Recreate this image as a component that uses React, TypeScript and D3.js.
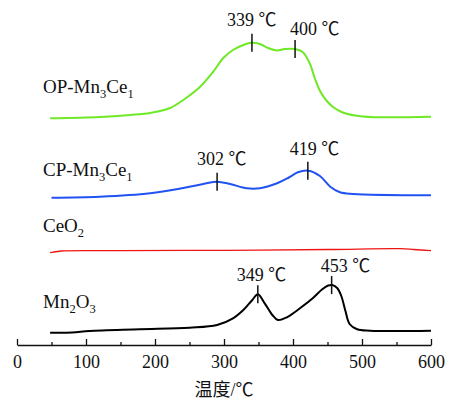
import React from 'react'
import * as d3 from 'd3'

// H2-TPR curves, temperature (℃) vs. signal (a.u.), stacked with offsets
const seriesNames = ['OP-Mn_3Ce_1', 'CP-Mn_3Ce_1', 'CeO_2', 'Mn_2O_3']
const seriesOffsets = [226, 147, 92, 12]
const seriesColors = ['#6fe826', '#2152f2', '#f01414', '#000000']

const opTemp = [48, 120, 164, 193, 222, 243, 265, 284, 299, 313, 328, 340, 352, 364, 377, 388, 403, 414, 424, 432, 440, 449, 458, 472, 501, 600]
const opSignal = [0.7, 2, 4, 6, 11, 20, 32, 47, 61, 69, 74, 76.3, 75, 71, 68.5, 70, 70, 67, 56, 40, 27, 18, 12, 6.5, 2.5, 2.3]

const cpTemp = [50, 120, 193, 241, 270, 290, 309, 333, 352, 377, 394, 407, 422, 439, 454, 468, 487, 600]
const cpSignal = [0.3, 1.3, 4.7, 10, 14, 16.3, 14, 9.7, 9.7, 14.7, 20.5, 25.7, 27.3, 22, 11.3, 5.7, 4, 2.7]

const ceTemp = [48, 64, 150, 300, 450, 556, 575, 600]
const ceSignal = [0.3, 2, 2.3, 2.7, 3.5, 4.3, 3.5, 2.3]

const mnTemp = [48, 80, 105, 178, 250, 290, 313, 328, 341, 349, 359, 370, 378, 391, 410, 429, 442, 451, 457, 464, 470, 476, 482, 493, 512, 600]
const mnSignal = [0.3, 0.5, 2, 3.7, 5.3, 8, 14.7, 23, 33, 38.7, 29.7, 18, 13, 15.7, 24.7, 35, 43.5, 47.5, 48, 45, 37, 22, 9, 3.7, 2.3, 2.3]

// peak markers
const peakSeries = [0, 0, 1, 1, 3, 3]
const peakAt = [340.5, 403, 290, 421.5, 349, 456]
const peakLabels = ['339 ℃', '400 ℃', '302 ℃', '419 ℃', '349 ℃', '453 ℃']

const xTicks = [0, 100, 200, 300, 400, 500, 600]
const xMinorTicks = [50, 150, 250, 350, 450, 550]

const W = 449
const H = 405
const FONT = "'Liberation Serif', 'Times New Roman', 'Noto Sans CJK SC', serif"

const App = () => {
  const ref = React.useRef<SVGSVGElement | null>(null)

  React.useEffect(() => {
    const svg = d3.select(ref.current)
    svg.selectAll('*').remove()

    const temps = [opTemp, cpTemp, ceTemp, mnTemp]
    const signals = [opSignal, cpSignal, ceSignal, mnSignal]

    const x = d3.scaleLinear().domain([0, 600]).range([17, 431])
    const y = d3.scaleLinear().domain([0, 345]).range([345, 0])

    const line = d3
      .line<[number, number]>()
      .x((d) => x(d[0]))
      .y((d) => y(d[1]))
      .curve(d3.curveCatmullRom.alpha(0.5))

    const valueAt = (i: number, t: number) => {
      const T = temps[i]
      const S = signals[i]
      const k = Math.max(1, Math.min(T.length - 1, d3.bisectLeft(T, t)))
      const f = (t - T[k - 1]) / (T[k] - T[k - 1])
      return S[k - 1] + f * (S[k] - S[k - 1]) + seriesOffsets[i]
    }

    // curves
    const widths = [2, 2, 1.3, 2]
    seriesNames.forEach((_, i) => {
      const pts: [number, number][] = temps[i].map((t, j) => [t, signals[i][j] + seriesOffsets[i]])
      svg
        .append('path')
        .attr('d', line(pts) || '')
        .attr('fill', 'none')
        .attr('stroke', seriesColors[i])
        .attr('stroke-width', widths[i])
        .attr('stroke-linejoin', 'round')
    })

    // series names with subscripts
    const nameGap = [21, 17, 16, 20]
    seriesNames.forEach((name, i) => {
      const t = svg
        .append('text')
        .attr('x', 43)
        .attr('y', y(seriesOffsets[i]) - nameGap[i])
        .attr('font-family', FONT)
        .attr('font-size', 19)
        .attr('fill', '#111')
      name.split(/(_\d)/).filter((s) => s).forEach((part) => {
        if (part.startsWith('_')) {
          t.append('tspan').attr('font-size', 12.5).attr('dy', 5).text(part.slice(1))
        } else {
          t.append('tspan').attr('dy', t.selectAll('tspan').size() ? -5 : 0).text(part)
        }
      })
    })

    // peak ticks and labels
    const labelDx = [-25, -5, -20, -18, -21, -11]
    const labelDy = [-8, -5, -8, -7, -4, -4]
    peakAt.forEach((t, i) => {
      const v = valueAt(peakSeries[i], t)
      const px = x(t)
      const top = y(v) - 9
      svg
        .append('line')
        .attr('x1', px)
        .attr('x2', px)
        .attr('y1', top)
        .attr('y2', y(v) + 9)
        .attr('stroke', '#111')
        .attr('stroke-width', 1.5)
      svg
        .append('text')
        .attr('x', px + labelDx[i])
        .attr('y', top + labelDy[i])
        .attr('font-family', FONT)
        .attr('font-size', 18)
        .attr('fill', '#111')
        .text(peakLabels[i])
    })

    // x axis, ticks pointing up
    const axis = svg
      .append('g')
      .attr('transform', `translate(0,${y(0)})`)
      .call(d3.axisBottom(x).tickValues(xTicks).tickSizeInner(-6).tickSizeOuter(0).tickPadding(10).tickFormat(d3.format('d')))
    axis.select('.domain').attr('stroke', '#111').attr('stroke-width', 1.3)
    axis.selectAll('.tick line').attr('stroke', '#111').attr('stroke-width', 1.3)
    axis.selectAll('text').attr('font-family', FONT).attr('font-size', 18).attr('fill', '#111')

    const minor = svg
      .append('g')
      .attr('transform', `translate(0,${y(0)})`)
      .call(d3.axisBottom(x).tickValues(xMinorTicks).tickSizeInner(-3).tickSizeOuter(0).tickFormat(() => ''))
    minor.select('.domain').remove()
    minor.selectAll('.tick line').attr('stroke', '#111').attr('stroke-width', 1.3)

    svg
      .append('text')
      .attr('x', (x(0) + x(600)) / 2)
      .attr('y', 396)
      .attr('text-anchor', 'middle')
      .attr('font-family', FONT)
      .attr('font-size', 18)
      .attr('fill', '#111')
      .text('温度/℃')
  }, [])

  return (
    <svg
      ref={ref}
      width={W}
      height={H}
      style={{ position: 'absolute', left: 0, top: 0, background: '#fff' }}
    ></svg>
  )
}

export default App
